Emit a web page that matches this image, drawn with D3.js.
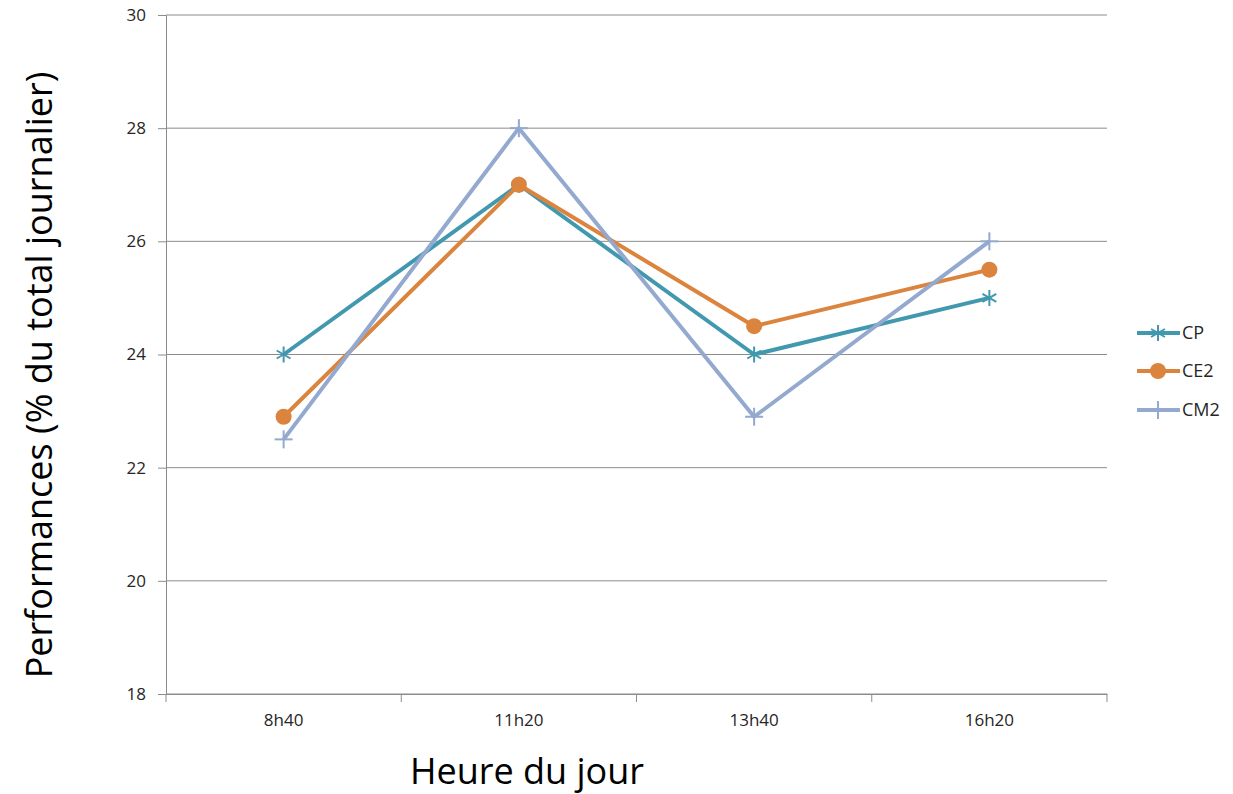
<!DOCTYPE html>
<html>
<head>
<meta charset="utf-8">
<script src="https://cdn.jsdelivr.net/npm/d3@7"></script>
<style>
  body { margin: 0; background: #fff; }
  text { font-family: "Open Sans", "DejaVu Sans", sans-serif; fill: #262626; }
</style>
</head>
<body>
<svg id="chart" width="1233" height="794"></svg>
<script>
var categories = ["8h40", "11h20", "13h40", "16h20"]
var seriesNames = ["CP", "CE2", "CM2"]
var cpValues = [24, 27, 24, 25]
var ce2Values = [22.9, 27, 24.5, 25.5]
var cm2Values = [22.5, 28, 22.9, 26]
var yTicks = [18, 20, 22, 24, 26, 28, 30]

var colors = {CP: "#4198AF", CE2: "#DB843D", CM2: "#93A9CF"}
var series = [
    {name: "CP", values: cpValues, marker: "star"},
    {name: "CE2", values: ce2Values, marker: "circle"},
    {name: "CM2", values: cm2Values, marker: "plus"}
]

var plotLeft = 166, plotRight = 1107, plotTop = 15, plotBottom = 694

var svg = d3.select("#chart")

var x = d3.scaleBand().domain(categories).range([plotLeft, plotRight])
var y = d3.scaleLinear().domain([18, 30]).range([plotBottom, plotTop])

// gridlines
svg.append("g")
    .selectAll("line")
    .data(yTicks)
    .enter()
    .append("line")
    .attr("x1", plotLeft)
    .attr("x2", plotRight)
    .attr("y1", d => y(d))
    .attr("y2", d => y(d))
    .style("stroke", "#8c8c8c")
    .style("stroke-width", 1)

// y axis
var yAxis = svg.append("g")
    .attr("transform", "translate(" + plotLeft + ",0)")
    .call(d3.axisLeft(y).tickValues(yTicks).tickSize(8).tickPadding(12))
yAxis.select(".domain").style("stroke", "#8c8c8c")
yAxis.selectAll(".tick line").style("stroke", "#8c8c8c")
yAxis.selectAll("text").style("font-size", "17px").style("fill", "#262626")

// x axis
var xAxis = svg.append("g")
    .attr("transform", "translate(0," + plotBottom + ")")
    .call(d3.axisBottom(x).tickSize(0).tickPadding(20))
xAxis.select(".domain").style("stroke", "#8c8c8c")
xAxis.selectAll("text").style("font-size", "17px").style("fill", "#262626")

var bounds = [plotLeft].concat(categories.map(c => x(c) + x.bandwidth()))
svg.append("g")
    .selectAll("line")
    .data(bounds)
    .enter()
    .append("line")
    .attr("x1", d => d)
    .attr("x2", d => d)
    .attr("y1", plotBottom)
    .attr("y2", plotBottom + 8)
    .style("stroke", "#8c8c8c")

// lines
var line = d3.line()
    .x((d, i) => x(categories[i]) + x.bandwidth() / 2)
    .y(d => y(d))

function drawMarker(g, type, color, cx, cy) {
    if (type == "circle") {
        g.append("circle").attr("cx", cx).attr("cy", cy).attr("r", 8).style("fill", color)
    } else if (type == "star") {
        var r = 8
        ;[0, 60, 120].forEach(a => {
            var rad = (a + 90) * Math.PI / 180
            g.append("line")
                .attr("x1", cx - r * Math.cos(rad)).attr("y1", cy - r * Math.sin(rad))
                .attr("x2", cx + r * Math.cos(rad)).attr("y2", cy + r * Math.sin(rad))
                .style("stroke", color).style("stroke-width", 2)
        })
    } else {
        var r = 9
        g.append("line").attr("x1", cx - r).attr("x2", cx + r).attr("y1", cy).attr("y2", cy)
            .style("stroke", color).style("stroke-width", 2)
        g.append("line").attr("x1", cx).attr("x2", cx).attr("y1", cy - r).attr("y2", cy + r)
            .style("stroke", color).style("stroke-width", 2)
    }
}

series.forEach(s => {
    var g = svg.append("g")
    g.append("path")
        .datum(s.values)
        .attr("d", line)
        .style("fill", "none")
        .style("stroke", colors[s.name])
        .style("stroke-width", 4)
        .style("stroke-linejoin", "round")
    s.values.forEach((v, i) => {
        drawMarker(g, s.marker, colors[s.name], x(categories[i]) + x.bandwidth() / 2, y(v))
    })
})

// legend
var legendY = [333, 371, 410]
series.forEach((s, i) => {
    var g = svg.append("g")
    g.append("line")
        .attr("x1", 1137).attr("x2", 1180)
        .attr("y1", legendY[i]).attr("y2", legendY[i])
        .style("stroke", colors[s.name]).style("stroke-width", 4)
    drawMarker(g, s.marker, colors[s.name], 1158, legendY[i])
    g.append("text")
        .attr("x", 1182)
        .attr("y", legendY[i])
        .attr("dy", "0.35em")
        .style("font-size", "18px")
        .text(s.name)
})

// axis titles
svg.append("text")
    .attr("transform", "translate(52,375) rotate(-90)")
    .style("text-anchor", "middle")
    .style("font-size", "36px")
    .style("fill", "#000")
    .text("Performances (% du total journalier)")

svg.append("text")
    .attr("x", 527)
    .attr("y", 784)
    .style("text-anchor", "middle")
    .style("font-size", "36px")
    .style("fill", "#000")
    .text("Heure du jour")
</script>
</body>
</html>
